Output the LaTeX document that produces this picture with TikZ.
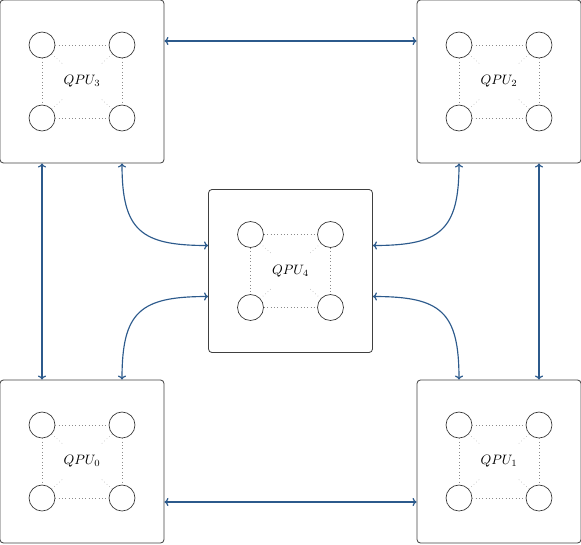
\documentclass[tikz,border=0pt]{standalone}
\usetikzlibrary{arrows.meta,calc}
\definecolor{linkblue}{RGB}{44,90,140}
\tikzset{
  qbox/.style={draw=black!75, line width=0.6pt, rounded corners=2.5pt,
    minimum width=120.5pt, minimum height=119.8pt, inner sep=0pt},
  qubit/.style={circle, draw=black!80, line width=0.5pt, minimum size=19.1pt, inner sep=0pt},
  lbl/.style={inner xsep=1pt, inner ysep=0pt, minimum height=25pt},
  cpl/.style={draw=black!45, dotted, line width=0.45pt},
  diag/.style={draw=black!30, dotted, line width=0.45pt},
  link/.style={draw=linkblue, line width=0.85pt, {To[length=3pt,width=6pt]}-{To[length=3pt,width=6pt]}},
  sqcurve/.style={looseness=1.45},
}
\newcommand\qpuunit[4]{%
  \node[qbox] (#1) at (#2,#3) {};
  \node[lbl] (#1l) at (#2,#3) {$QPU_{#4}$};
  \node[qubit] (#1a) at ({#2-40},{#3-36.5}) {};
  \node[qubit] (#1b) at ({#2+40},{#3-36.5}) {};
  \node[qubit] (#1c) at ({#2-40},{#3+36.5}) {};
  \node[qubit] (#1d) at ({#2+40},{#3+36.5}) {};
  \draw[cpl] (#1a) -- (#1b);
  \draw[cpl] (#1c) -- (#1d);
  \draw[cpl] (#1a) -- (#1c);
  \draw[cpl] (#1b) -- (#1d);
  \draw[diag] (#1a) -- (#1l);
  \draw[diag] (#1b) -- (#1l);
  \draw[diag] (#1c) -- (#1l);
  \draw[diag] (#1d) -- (#1l);
}
\begin{document}
\begin{tikzpicture}[x=0.735pt, y=-0.735pt]
  \useasboundingbox (0,0) rectangle (581,544);
  \qpuunit{q3}{82}{81.5}{3}
  \qpuunit{q2}{499}{81.5}{2}
  \qpuunit{q0}{82}{461.5}{0}
  \qpuunit{q1}{499}{461.5}{1}
  \qpuunit{q4}{290.5}{271}{4}
  % straight links
  \draw[link] ($(q3.east)+(0,-40.5)$) -- ($(q2.west)+(0,-40.5)$);
  \draw[link] ($(q0.east)+(0,40.5)$) -- ($(q1.west)+(0,40.5)$);
  \draw[link] ($(q3.south)+(-40,0)$) -- ($(q0.north)+(-40,0)$);
  \draw[link] ($(q2.south)+(40,0)$) -- ($(q1.north)+(40,0)$);
  % curved links to the centre
  \draw[link] ($(q3.south)+(40,0)$) to[out=-90, in=180, sqcurve] ($(q4.west)+(0,-25.5)$);
  \draw[link] ($(q0.north)+(40,0)$) to[out=90, in=180, sqcurve] ($(q4.west)+(0,25.5)$);
  \draw[link] ($(q2.south)+(-40,0)$) to[out=-90, in=0, sqcurve] ($(q4.east)+(0,-25.5)$);
  \draw[link] ($(q1.north)+(-40,0)$) to[out=90, in=0, sqcurve] ($(q4.east)+(0,25.5)$);
\end{tikzpicture}
\end{document}
